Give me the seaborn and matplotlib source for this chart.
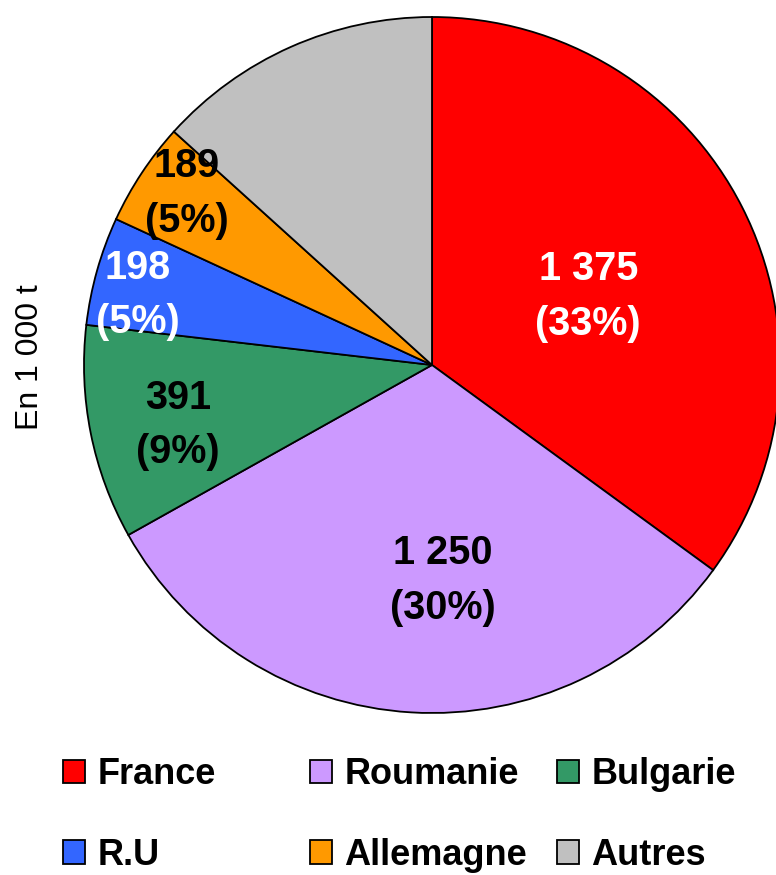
import numpy as np
import matplotlib
matplotlib.use('Agg')
import matplotlib.pyplot as plt
import seaborn as sns

# data (en 1 000 t)
pays = ['France', 'Roumanie', 'Bulgarie', 'R.U', 'Allemagne', 'Autres']
volumes = [1375, 1250, 391, 198, 189, 522]
etiquettes = ['1 375\n(33%)', '1 250\n(30%)', '391\n(9%)', '198\n(5%)', '189\n(5%)', '']
couleurs = ['#FF0000', '#CC99FF', '#339966', '#3366FF', '#FF9900', '#C0C0C0']
couleurs_texte = ['white', 'black', 'black', 'white', 'black', 'black']

# label placement: radius fraction and angle shift (deg) from wedge middle
rayon_label = [0.49, 0.62, 0.75, 0.87, 0.86, 0.6]
decalage_angle = [-3.3, 6.4, 2.0, 2.3, -1.5, 0.0]

sns.set_theme(style='white')
plt.rcParams['font.family'] = ['Liberation Sans', 'DejaVu Sans']
plt.rcParams['text.color'] = 'black'

fig = plt.figure(figsize=(7.76, 8.75), dpi=100)
ax = fig.add_axes([84 / 776, 162 / 875, 696 / 776, 696 / 875])

palette = sns.color_palette(couleurs)
wedges, _ = ax.pie(volumes, colors=palette, startangle=90, counterclock=False,
                   radius=1, wedgeprops=dict(edgecolor='black', linewidth=1.3))
ax.set_xlim(-1, 1)
ax.set_ylim(-1, 1)
ax.set_aspect('equal')
ax.axis('off')

# value labels inside the slices
for w, lab, c, r, d in zip(wedges, etiquettes, couleurs_texte, rayon_label, decalage_angle):
    if not lab:
        continue
    ang = np.deg2rad((w.theta1 + w.theta2) / 2 + d)
    ax.text(r * np.cos(ang), r * np.sin(ang), lab, ha='center', va='center',
            fontsize=28.5, fontweight='bold', color=c, linespacing=1.55)

# y label
fig.text(30 / 776, 1 - 357.5 / 875, 'En 1 000 t', rotation=90, ha='center',
         va='center', fontsize=23, color='black')

# legend: three columns with equal widths
col_x = [63, 310, 557]
for i, x0 in enumerate(col_x):
    h = [wedges[i], wedges[i + 3]]
    l = [pays[i], pays[i + 3]]
    leg = fig.legend(h, l, loc='center left', bbox_to_anchor=(x0 / 776, 1 - 815 / 875),
                     frameon=False, borderpad=0, borderaxespad=0,
                     handlelength=0.62, handleheight=0.62, handletextpad=0.33,
                     labelspacing=1.25,
                     prop=dict(size=26, weight='bold'))
    for t in leg.get_texts():
        t.set_color('black')

plt.savefig('out.png', dpi=100)
